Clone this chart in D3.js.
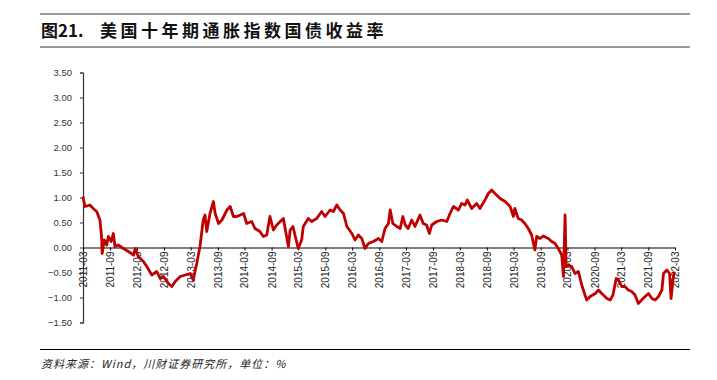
<!DOCTYPE html>
<html><head><meta charset="utf-8">
<script src="https://cdn.jsdelivr.net/npm/d3@7"></script>
<style>
html,body{margin:0;padding:0;background:#fff;}
svg{display:block;}
</style></head>
<body>
<svg id="c" width="717" height="380"></svg>
<script>
const titleNum = "图21.";
const titleText = "美国十年期通胀指数国债收益率";
const sourceText = "资料来源：Wind，川财证券研究所，单位：%";
const yTicks = [3.5, 3.0, 2.5, 2.0, 1.5, 1.0, 0.5, 0.0, -0.5, -1.0, -1.5];
const xTickLabels = ["2011-03","2011-09","2012-03","2012-09","2013-03","2013-09","2014-03","2014-09","2015-03","2015-09","2016-03","2016-09","2017-03","2017-09","2018-03","2018-09","2019-03","2019-09","2020-03","2020-09","2021-03","2021-09","2022-03"];
const dates = ["2011-03-01","2011-03-14","2011-04-17","2011-05-09","2011-06-02","2011-06-24","2011-07-05","2011-07-09","2011-07-23","2011-08-09","2011-08-20","2011-09-08","2011-09-23","2011-10-04","2011-10-26","2011-11-30","2012-01-03","2012-02-07","2012-02-18","2012-03-10","2012-04-14","2012-05-07","2012-06-10","2012-07-14","2012-08-06","2012-08-28","2012-10-01","2012-10-24","2012-11-16","2012-12-20","2013-01-23","2013-02-26","2013-03-18","2013-04-11","2013-05-03","2013-05-25","2013-06-06","2013-06-18","2013-07-10","2013-08-02","2013-08-14","2013-09-06","2013-09-29","2013-11-02","2013-11-24","2013-12-16","2014-01-09","2014-02-23","2014-03-16","2014-04-19","2014-05-11","2014-06-14","2014-07-07","2014-07-30","2014-08-21","2014-09-13","2014-10-06","2014-11-09","2014-11-20","2014-12-08","2014-12-24","2015-01-05","2015-01-24","2015-02-09","2015-03-01","2015-03-24","2015-04-04","2015-05-08","2015-05-31","2015-07-04","2015-08-07","2015-08-30","2015-10-03","2015-10-25","2015-11-18","2015-12-10","2016-01-02","2016-01-25","2016-02-28","2016-03-20","2016-04-12","2016-05-05","2016-05-27","2016-06-19","2016-07-23","2016-08-26","2016-09-18","2016-10-10","2016-11-02","2016-11-14","2016-12-02","2016-12-29","2017-01-21","2017-02-08","2017-02-24","2017-03-16","2017-04-09","2017-05-01","2017-06-04","2017-06-26","2017-07-19","2017-08-07","2017-08-23","2017-09-26","2017-10-30","2017-12-03","2017-12-25","2018-01-17","2018-02-20","2018-03-14","2018-04-06","2018-04-21","2018-05-21","2018-06-24","2018-07-16","2018-08-19","2018-09-11","2018-10-04","2018-10-26","2018-11-30","2019-01-03","2019-02-06","2019-02-28","2019-03-10","2019-04-02","2019-04-25","2019-05-17","2019-06-09","2019-07-02","2019-07-24","2019-08-05","2019-08-28","2019-09-19","2019-10-23","2019-11-15","2019-12-08","2019-12-30","2020-01-22","2020-02-03","2020-02-14","2020-02-21","2020-03-07","2020-03-30","2020-04-21","2020-05-14","2020-06-06","2020-06-28","2020-07-10","2020-08-02","2020-09-06","2020-09-28","2020-10-20","2020-11-24","2020-12-16","2021-01-04","2021-01-26","2021-02-11","2021-03-04","2021-03-26","2021-04-18","2021-05-11","2021-06-03","2021-06-25","2021-07-18","2021-08-10","2021-09-02","2021-09-25","2021-10-17","2021-11-09","2021-12-02","2021-12-13","2022-01-05","2022-01-23","2022-02-02","2022-02-15","2022-02-24"];
const values = [1.02,0.82,0.85,0.78,0.72,0.55,0.22,-0.12,0.15,0.05,0.22,0.12,0.28,0.02,0.05,-0.02,-0.08,-0.15,-0.02,-0.18,-0.28,-0.38,-0.55,-0.48,-0.62,-0.58,-0.72,-0.78,-0.68,-0.58,-0.55,-0.52,-0.65,-0.32,0.02,0.55,0.65,0.32,0.68,0.92,0.68,0.48,0.55,0.75,0.82,0.62,0.62,0.68,0.48,0.52,0.38,0.32,0.22,0.25,0.62,0.35,0.45,0.55,0.58,0.28,0.02,0.35,0.42,0.22,-0.02,0.15,0.42,0.58,0.52,0.58,0.72,0.62,0.75,0.72,0.85,0.75,0.68,0.42,0.28,0.15,0.25,0.18,-0.02,0.08,0.12,0.18,0.12,0.38,0.48,0.75,0.48,0.42,0.38,0.62,0.45,0.38,0.55,0.42,0.65,0.48,0.45,0.28,0.45,0.52,0.55,0.52,0.68,0.82,0.75,0.88,0.85,0.95,0.78,0.88,0.78,0.95,1.08,1.15,1.08,0.98,0.92,0.82,0.62,0.78,0.58,0.55,0.48,0.38,0.25,-0.05,0.22,0.18,0.23,0.18,0.12,0.08,-0.02,-0.15,-0.58,0.65,-0.38,-0.35,-0.38,-0.52,-0.48,-0.75,-0.95,-1.05,-0.98,-0.92,-0.85,-0.92,-1.02,-1.05,-0.95,-0.62,-0.65,-0.78,-0.78,-0.85,-0.88,-0.95,-1.12,-1.05,-0.98,-0.92,-1.02,-1.05,-0.98,-0.85,-0.52,-0.45,-0.52,-1.02,-0.65,-0.48];

const parseDay = d3.timeParse("%Y-%m-%d");
const parseMonth = d3.timeParse("%Y-%m");
const data = dates.map((d, i) => ({date: parseDay(d), value: values[i]}));

const svg = d3.select("#c");
const x = d3.scaleTime().domain([parseMonth("2011-03"), parseMonth("2022-03")]).range([83, 675]);
const y = d3.scaleLinear().domain([-1.5, 3.5]).range([322.5, 72.5]);

// title block
svg.append("line").attr("x1", 40).attr("x2", 690).attr("y1", 14).attr("y2", 14).attr("stroke", "#9a9a9a").attr("stroke-width", 2);
svg.append("line").attr("x1", 40).attr("x2", 690).attr("y1", 47).attr("y2", 47).attr("stroke", "#9a9a9a").attr("stroke-width", 2);
svg.append("text").attr("x", 41).attr("y", 37).attr("font-family", "'Noto Sans CJK SC', sans-serif").attr("font-weight", "bold").attr("font-size", 17).attr("fill", "#111").text(titleNum);
svg.append("text").attr("x", 100).attr("y", 37).attr("font-family", "'Noto Sans CJK SC', sans-serif").attr("font-weight", "bold").attr("font-size", 17).attr("letter-spacing", "3.5px").attr("fill", "#111").text(titleText);

// y axis
const yAxis = svg.append("g").attr("transform", "translate(83,0)")
  .call(d3.axisLeft(y).tickValues(yTicks).tickFormat(d3.format(".2f")).tickSize(3).tickPadding(8));
yAxis.select(".domain").attr("stroke", "#333").attr("stroke-width", 1.2);
yAxis.selectAll(".tick line").attr("stroke", "#333");
yAxis.selectAll("text").attr("font-family", "'Liberation Sans', Arial, sans-serif").attr("font-size", 9.5).attr("fill", "#333");

// x axis at zero
const xTickDates = xTickLabels.map(parseMonth);
const xAxis = svg.append("g").attr("transform", `translate(0,${y(0)})`)
  .call(d3.axisBottom(x).tickValues(xTickDates).tickFormat((d, i) => xTickLabels[i]).tickSize(3).tickSizeOuter(0));
xAxis.select(".domain").attr("stroke", "#000").attr("stroke-width", 1.2);
xAxis.selectAll(".tick line").attr("stroke", "#000");
xAxis.selectAll("text")
  .attr("font-family", "'Liberation Sans', Arial, sans-serif").attr("font-size", 10).attr("fill", "#222")
  .attr("text-anchor", "end").attr("dy", "0.35em")
  .attr("transform", "rotate(-90)").attr("x", -4).attr("y", 0);

// line
const line = d3.line().x(d => x(d.date)).y(d => y(d.value));
svg.append("path").datum(data).attr("d", line).attr("fill", "none")
  .attr("stroke", "#C00000").attr("stroke-width", 2.8).attr("stroke-linejoin", "round");

// footer
svg.append("line").attr("x1", 40).attr("x2", 690).attr("y1", 349.5).attr("y2", 349.5).attr("stroke", "#000").attr("stroke-width", 1);
svg.append("text").attr("x", 41).attr("y", 368).attr("font-family", "'Noto Sans CJK SC', sans-serif").attr("font-style", "italic").attr("font-size", 11).attr("letter-spacing", "1px").attr("fill", "#222").text(sourceText);
</script>
</body></html>
